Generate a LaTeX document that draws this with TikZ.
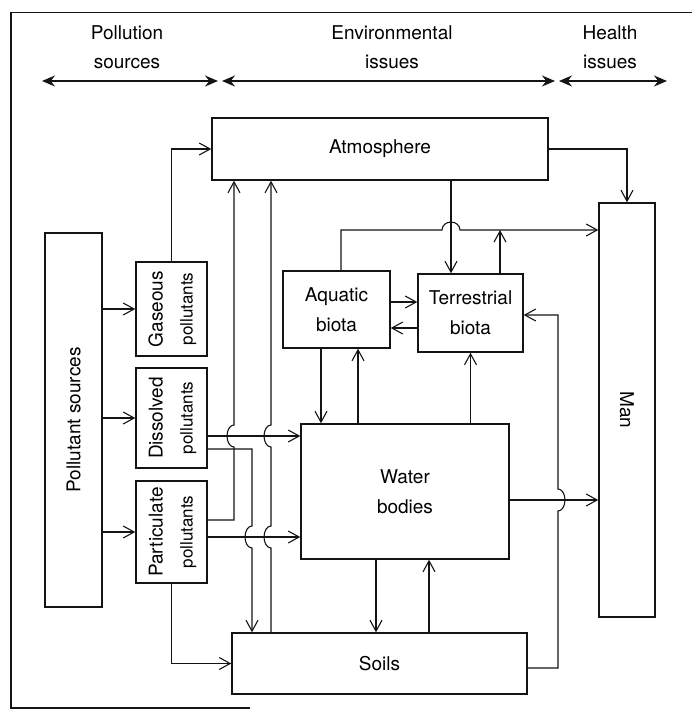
\documentclass[tikz,border=0pt]{standalone}
\usepackage{fontspec}
\setmainfont{TeX Gyre Heros}
\usepackage{tikz}
\usetikzlibrary{arrows.meta, calc}
\definecolor{inkline}{RGB}{20,20,20}
\newcommand\polfont{\fontsize{17}{30}\selectfont}
\tikzset{
  box/.style={
    rectangle, draw=inkline, line width=1.4pt, inner sep=0pt,
    align=center, fill=white, font=\fontsize{19}{30}\selectfont
  },
  arr/.style={-{Straight Barb[length=11pt,width=12pt]}, line width=1.1pt, draw=inkline},
  rng/.style={{Stealth[length=13pt,width=11pt]}-{Stealth[length=13pt,width=11pt]},
              line width=1.3pt, draw=inkline},
  frame/.style={line width=1.4pt, draw=inkline},
  hdr/.style={align=center, inner sep=0pt, font=\fontsize{19}{29}\selectfont},
  hop/.style={x radius=7, y radius=11},
  hopup/.style={x radius=9, y radius=8}
}

\begin{document}
\begin{tikzpicture}[x=1pt, y=-1pt]
  \useasboundingbox (0,0) rectangle (692,710);
  \draw[frame] (692,12.5) -- (11,12.5) -- (11,708) -- (250,708);

  %% ── header ───────────────────────────────────────────────
  \node[hdr] (tps)  at (127,47) {Pollution\\sources};
  \node[hdr] (tenv) at (392,47) {Environmental\\issues};
  \node[hdr] (thl)  at (610,47) {Health\\issues};
  \coordinate (p0) at (42,81);  \coordinate (p1) at (218,81);
  \coordinate (e0) at (222,81); \coordinate (e1) at (555,81);
  \coordinate (h0) at (559,81); \coordinate (h1) at (667,81);
  \foreach \a/\b in {p0/p1, e0/e1, h0/h1}
    \draw[rng] (\a) -- (\b);

  %% ── sources ──────────────────────────────────────────────
  \node[box, minimum width=57pt, minimum height=374pt] (src) at (73.5,420)
       {\rotatebox{90}{Pollutant sources}};
  \node[box, minimum width=71pt, minimum height=94pt]  (gas) at (171.5,309)
       {\rotatebox{90}{\begin{tabular}{@{}c@{}}Gaseous\\\polfont pollutants\end{tabular}}};
  \node[box, minimum width=71pt, minimum height=100pt] (dis) at (171.5,418)
       {\rotatebox{90}{\begin{tabular}{@{}c@{}}Dissolved\\\polfont pollutants\end{tabular}}};
  \node[box, minimum width=71pt, minimum height=102pt] (par) at (171.5,532)
       {\rotatebox{90}{\begin{tabular}{@{}c@{}}Particulate\\\polfont pollutants\end{tabular}}};

  %% ── environment ──────────────────────────────────────────
  \node[box, minimum width=336pt, minimum height=62pt]  (atm)  at (380,149)   {Atmosphere};
  \node[box, minimum width=107pt, minimum height=77pt]  (aq)   at (336.5,309.5) {Aquatic\\biota};
  \node[box, minimum width=105pt, minimum height=78pt]  (ter)  at (470.5,313) {Terrestrial\\biota};
  \node[box, minimum width=208pt, minimum height=135pt] (wat)  at (405,491.5) {Water\\bodies};
  \node[box, minimum width=295pt, minimum height=61pt]  (soil) at (379.5,663.5) {Soils};

  %% ── health ───────────────────────────────────────────────
  \node[box, minimum width=56pt, minimum height=414pt]  (man)  at (627,410)
       {\rotatebox{-90}{Man}};

  %% sources -> pollutant boxes
  \foreach \b in {gas, dis, par}
    \draw[arr] (src.east |- \b.west) -- (\b.west);

  %% pollutants -> atmosphere, water, soils
  \draw[arr] (gas.north) |- (atm.west);
  \draw[arr] (dis.east |- 0,436) -- (wat.west |- 0,436);
  \draw[arr] (par.east |- 0,537) -- (wat.west |- 0,537);
  \draw[arr] (par.south) |- (soil.west);
  \draw[arr] (par.east |- 0,520) -- (234,520) -- (234,447)
      arc[hop, start angle=90, end angle=270] -- (atm.south -| 234,0);
  \draw[arr] (dis.east |- 0,449) -- (252,449) -- (252,526)
      arc[hop, start angle=270, end angle=90] -- (soil.north -| 252,0);
  \draw[arr] (soil.north -| 271,0) -- (271,548)
      arc[hop, start angle=90, end angle=270] -- (271,447)
      arc[hop, start angle=90, end angle=270] -- (atm.south -| 271,0);

  %% biota
  \draw[arr] (aq.east |- 0,302) -- (ter.west |- 0,302);
  \draw[arr] (ter.west |- 0,328) -- (aq.east |- 0,328);
  \draw[arr] (atm.south -| 451,0) -- (ter.north -| 451,0);
  \coordinate (jn) at (500,230);
  \draw[arr] (aq.north -| 341,0) -- (341,230) -- (442,230)
      arc[hopup, start angle=180, end angle=360] -- (man.west |- jn);
  \draw[arr] (ter.north -| jn) -- (jn);

  %% water bodies and soils
  \draw[arr] (aq.south -| 321,0) -- (wat.north -| 321,0);
  \draw[arr] (wat.north -| 358,0) -- (aq.south -| 358,0);
  \draw[arr] (wat.north -| ter.south) -- (ter.south);
  \draw[arr] (wat.south -| 376,0) -- (soil.north -| 376,0);
  \draw[arr] (soil.north -| 429,0) -- (wat.south -| 429,0);
  \draw[arr] (wat.east |- 0,500) -- (man.west |- 0,500);
  \draw[arr] (soil.east |- 0,668) -- (558,668) -- (558,511)
      arc[hop, start angle=90, end angle=-90] -- (558,315) -- (ter.east |- 0,315);

  %% atmosphere -> man
  \draw[arr] (atm.east) -| (man.north);

\end{tikzpicture}
\end{document}
